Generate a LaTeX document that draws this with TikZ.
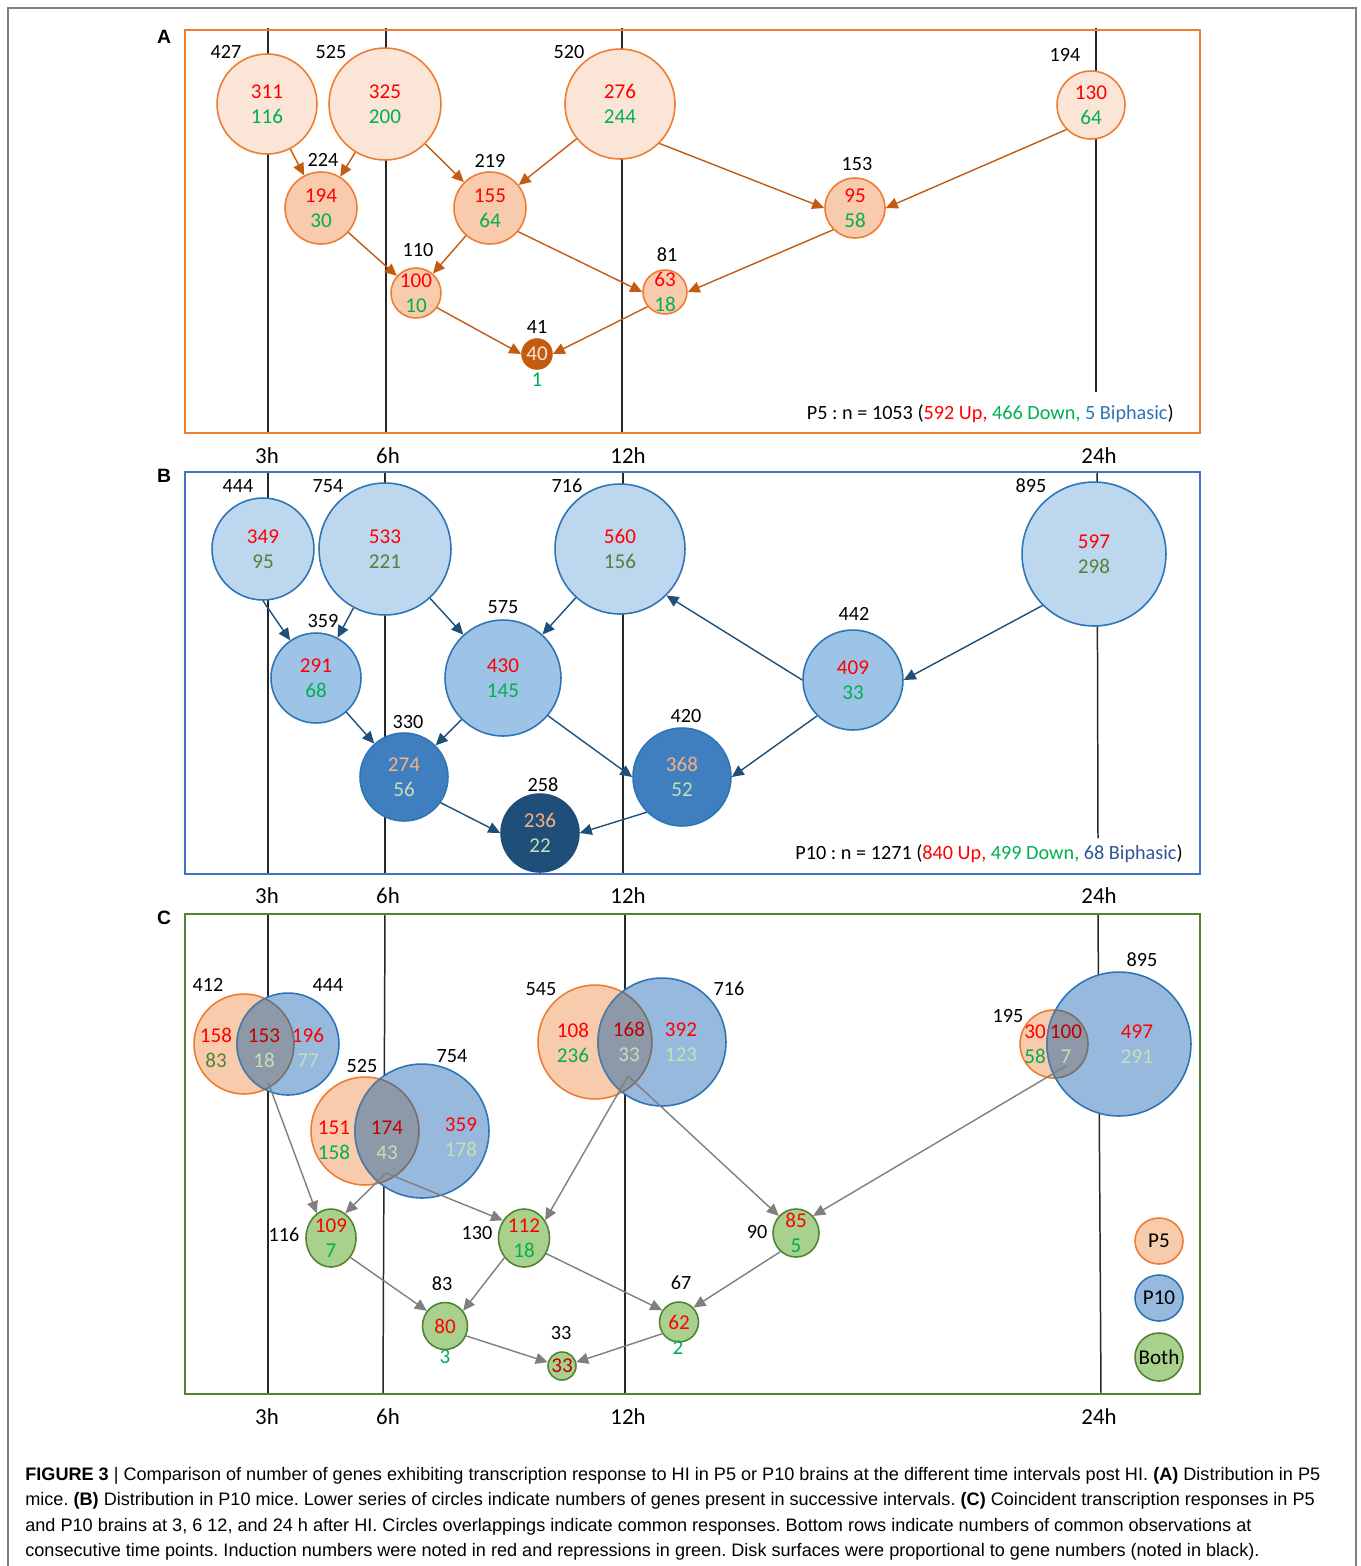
\documentclass[tikz,border=0pt]{standalone}
\usepackage{fontspec}
\setmainfont{Carlito}
\newfontfamily\capfont{Liberation Sans}
\usetikzlibrary{arrows.meta,positioning,shapes.geometric}
\definecolor{upred}{HTML}{FF0000}
\definecolor{dngreen}{HTML}{00B050}
\definecolor{dkgreen}{HTML}{548235}
\definecolor{darkred}{HTML}{C00000}
\definecolor{paleorange}{HTML}{F4B183}
\definecolor{palegreen}{HTML}{C5E0B4}
\definecolor{orline}{HTML}{ED7D31}
\definecolor{orlight}{HTML}{FBE5D6}
\definecolor{ormid}{HTML}{F8CBAD}
\definecolor{ordark}{HTML}{C55A11}
\definecolor{blline}{HTML}{2E75B6}
\definecolor{bllight}{HTML}{BDD7EE}
\definecolor{blmid}{HTML}{9DC3E6}
\definecolor{bldark}{HTML}{3F7FBF}
\definecolor{blnavy}{HTML}{1F4E79}
\definecolor{venblue}{HTML}{97B9DD}
\definecolor{lensgray}{HTML}{8D99A9}
\definecolor{lensblue}{HTML}{4F7AA8}
\definecolor{lensbrown}{HTML}{7A6E6A}
\definecolor{grfill}{HTML}{A9D18E}
\definecolor{grline}{HTML}{548235}
\definecolor{arrgray}{HTML}{7F7F7F}
\definecolor{frameblue}{HTML}{4472C4}
\definecolor{bipA}{HTML}{2E75B6}
\definecolor{bipB}{HTML}{2F5597}

% two numbers stacked in a disk
\newcommand{\twonum}[4]{\textcolor{#1}{#2}\\\textcolor{#3}{#4}}
% grey lens where a P5 disk and a P10 disk overlap
\newcommand{\overlap}[4]{%
  \begin{scope}
    \clip (#1.center) circle[radius=#2];
    \fill[lensgray] (#3.center) circle[radius=#4];
    \draw[lensblue, line width=0.9pt] (#3.center) circle[radius=#4];
  \end{scope}
  \begin{scope}
    \clip (#3.center) circle[radius=#4];
    \draw[lensbrown, line width=0.9pt] (#1.center) circle[radius=#2];
  \end{scope}}

\frenchspacing
\begin{document}
\begin{tikzpicture}[
    x=0.02cm, y=-0.02cm,
    font=\fontsize{12}{14.2}\selectfont,
    >={Triangle[length=2.4mm, width=2.2mm]},
    rad/.style={minimum size=0.04cm*#1},
    wh/.style 2 args={minimum width=0.02cm*#1, minimum height=0.02cm*#2},
    num/.style={label={[align=center, inner sep=0pt]center:#1}},
    bub/.style={circle, inner sep=0pt, line width=0.9pt},
    pa/.style={bub, draw=orline, fill=orlight},
    pb/.style={bub, draw=orline, fill=ormid},
    pc/.style={bub, draw=ordark, fill=ordark},
    qa/.style={bub, draw=blline, fill=bllight},
    qb/.style={bub, draw=blline, fill=blmid},
    qc/.style={bub, draw=blline, fill=bldark},
    qd/.style={bub, draw=blnavy, fill=blnavy},
    vp5/.style={bub, draw=orline, fill=ormid},
    vp10/.style={bub, draw=blline, fill=venblue},
    both/.style={ellipse, inner sep=0pt, line width=0.9pt, draw=grline, fill=grfill},
    cnt/.style={inner sep=0pt, font=\fontsize{11.5}{13}\selectfont},
    txt/.style={inner sep=0pt, align=center},
    tim/.style={inner sep=0pt, font=\fontsize{13}{15}\selectfont},
    letter/.style={inner sep=0pt, font=\capfont\bfseries\fontsize{11}{13}\selectfont},
    legtxt/.style={inner sep=0pt, font=\fontsize{11.5}{13}\selectfont},
    tick/.style={black!85, line width=0.85pt},
    arA/.style={->, ordark, line width=0.8pt},
    arB/.style={->, blnavy, line width=0.8pt},
    arC/.style={->, arrgray, line width=0.8pt},
    capline/.style={inner sep=0pt, anchor=base west, font=\capfont\fontsize{10.3}{12}\selectfont},
]
\useasboundingbox (0,0) rectangle (1360,1566);
\draw[arrgray, line width=1.2pt] (8,1566) -- (8,8) -- (1356,8) -- (1356,1566);

% ================= A : P5 =================
\draw[tick] (268,28) -- (268,433);
\draw[tick] (386,28) -- (386,433);
\draw[tick] (622,28) -- (622,433);
\draw[tick] (1096,28) -- (1096,392);
\draw[orline, line width=1.1pt] (185,30) rectangle (1200,433);
\node[letter] (la) at (164,37) {A};

\node[pa, rad=50, num={\twonum{upred}{311}{dngreen}{116}}] (c311) at (267,104) {};
\node[pa, rad=56, num={\twonum{upred}{325}{dngreen}{200}}] (c325) at (385,104) {};
\node[pa, rad=55, num={\twonum{upred}{276}{dngreen}{244}}] (c276) at (620,104) {};
\node[pa, rad=34, num={\twonum{upred}{130}{dngreen}{64}}] (c130) at (1091,105) {};
\node[pb, rad=36, num={\twonum{upred}{194}{dngreen}{30}}] (c194) at (321,208) {};
\node[pb, rad=36, num={\twonum{upred}{155}{dngreen}{64}}] (c155) at (490,208) {};
\node[pb, rad=30, num={\twonum{upred}{95}{dngreen}{58}}] (c95) at (855,208) {};
\node[pb, rad=25, num={\twonum{upred}{100}{dngreen}{10}}] (c100) at (416,293) {};
\node[pb, rad=22, num={\twonum{upred}{63}{dngreen}{18}}] (c63) at (665,292) {};
\node[pc, rad=15, num={\textcolor{orlight}{40}}] (c40) at (537,354) {};
\node[txt, dngreen] (c40d) at (537,380) {1};

\node[cnt] (n427) at (226,52) {427};
\node[cnt] (n525) at (331,52) {525};
\node[cnt] (n520) at (569,52) {520};
\node[cnt] (n194) at (1065,55) {194};
\node[cnt] (n224) at (323,160) {224};
\node[cnt] (n219) at (490,161) {219};
\node[cnt] (n153) at (857,164) {153};
\node[cnt] (n110) at (418,250) {110};
\node[cnt] (n81) at (667,255) {81};
\node[cnt] (n41) at (537,327) {41};

\draw[arA] (c311) -- (c194);
\draw[arA] (c325) -- (c194);
\draw[arA] (c325) -- (c155);
\draw[arA] (c276) -- (c155);
\draw[arA] (c276.-45) -- (c95.west);
\draw[arA] (c130.225) -- (c95.east);
\draw[arA] (c194) -- (c100);
\draw[arA] (c155) -- (c100);
\draw[arA] (c155.-40) -- (c63.west);
\draw[arA] (c95.225) -- (c63.east);
\draw[arA] (c100.-35) -- (c40.west);
\draw[arA] (c63.220) -- (c40.east);

\node[legtxt, anchor=base east] (legA) at (1174,419)
  {P5 : n = 1053 (\textcolor{upred}{592 Up,} \textcolor{dngreen}{466 Down,} \textcolor{bipA}{5 Biphasic})};

\node[tim] (ta3) at (267,456) {3h};
\node[tim] (ta6) at (388,456) {6h};
\node[tim] (ta12) at (628,456) {12h};
\node[tim] (ta24) at (1099,456) {24h};

% ================= B : P10 =================
\draw[tick] (268,472) -- (268,874);
\draw[tick] (385,472) -- (385,874);
\draw[tick] (623,472) -- (623,874);
\draw[tick] (1097,472) -- (1098,838);
\draw[frameblue, line width=1.1pt] (185,472) rectangle (1200,874);
\node[letter] (lb) at (164,476) {B};

\node[qa, rad=51, num={\twonum{upred}{349}{dkgreen}{95}}] (b349) at (263,549) {};
\node[qa, rad=66, num={\twonum{upred}{533}{dkgreen}{221}}] (b533) at (385,549) {};
\node[qa, rad=65, num={\twonum{upred}{560}{dkgreen}{156}}] (b560) at (620,549) {};
\node[qa, rad=72, num={\twonum{upred}{597}{dkgreen}{298}}] (b597) at (1094,554) {};
\node[qb, rad=45, num={\twonum{upred}{291}{dngreen}{68}}] (b291) at (316,678) {};
\node[qb, rad=58, num={\twonum{upred}{430}{dngreen}{145}}] (b430) at (503,678) {};
\node[qb, rad=50, num={\twonum{upred}{409}{dngreen}{33}}] (b409) at (853,680) {};
\node[qc, rad=44, num={\twonum{paleorange}{274}{palegreen}{56}}] (b274) at (404,777) {};
\node[qc, rad=49, num={\twonum{paleorange}{368}{palegreen}{52}}] (b368) at (682,777) {};
\node[qd, rad=39, num={\twonum{paleorange}{236}{palegreen}{22}}] (b236) at (540,833) {};

\node[cnt] (n444) at (238,486) {444};
\node[cnt] (n754) at (328,486) {754};
\node[cnt] (n716) at (567,486) {716};
\node[cnt] (n895) at (1031,486) {895};
\node[cnt] (n359) at (323,621) {359};
\node[cnt] (n575) at (503,607) {575};
\node[cnt] (n442) at (854,614) {442};
\node[cnt] (n330) at (408,722) {330};
\node[cnt] (n420) at (686,716) {420};
\node[cnt] (n258) at (543,785) {258};

\draw[arB] (b349.south) -- (b291);
\draw[arB] (b533) -- (b291);
\draw[arB] (b533) -- (b430);
\draw[arB] (b560) -- (b430);
\draw[arB] (b409.west) -- (b560.south east);
\draw[arB] (b597.225) -- (b409.east);
\draw[arB] (b291) -- (b274);
\draw[arB] (b430) -- (b274);
\draw[arB] (b430.-40) -- (b368.west);
\draw[arB] (b409.225) -- (b368.east);
\draw[arB] (b274.-35) -- (b236.west);
\draw[arB] (b368.225) -- (b236.east);

\node[legtxt, anchor=base east] (legB) at (1183,859)
  {P10 : n = 1271 (\textcolor{upred}{840 Up,} \textcolor{dngreen}{499 Down,} \textcolor{bipB}{68 Biphasic})};

\node[tim] (tb3) at (267,896) {3h};
\node[tim] (tb6) at (388,896) {6h};
\node[tim] (tb12) at (628,896) {12h};
\node[tim] (tb24) at (1099,896) {24h};

% ================= C : P5 and P10 =================
\draw[tick] (268,914) -- (268,1394);
\draw[tick] (385,914) -- (383,1394);
\draw[tick] (625,914) -- (625,1394);
\draw[tick] (1098,914) -- (1101,1394);
\draw[dkgreen, line width=1.1pt] (185,914) rectangle (1200,1394);
\node[letter] (lc) at (164,918) {C};

% overlapping disks
\node[vp5, rad=50] (v1a) at (244,1044) {};
\node[vp10, rad=51] (v1b) at (288,1044) {};
\overlap{v1a}{50}{v1b}{51}
\node[vp5, rad=54] (v2a) at (365,1131) {};
\node[vp10, rad=67] (v2b) at (422,1131) {};
\overlap{v2a}{54}{v2b}{67}
\node[vp5, rad=57] (v3a) at (595,1042) {};
\node[vp10, rad=64] (v3b) at (662,1042) {};
\overlap{v3a}{57}{v3b}{64}
\node[vp5, rad=34] (v4a) at (1054,1044) {};
\node[vp10, rad=72] (v4b) at (1119,1044) {};
\overlap{v4a}{34}{v4b}{72}

\node[txt] (t158) at (216,1048) {\twonum{upred}{158}{dkgreen}{83}};
\node[txt] (t153) at (264,1048) {\twonum{darkred}{153}{palegreen}{18}};
\node[txt] (t196) at (308,1048) {\twonum{upred}{196}{palegreen}{77}};
\node[txt] (t151) at (334,1140) {\twonum{upred}{151}{dngreen}{158}};
\node[txt] (t174) at (387,1140) {\twonum{darkred}{174}{palegreen}{43}};
\node[txt] (t359) at (461,1137) {\twonum{upred}{359}{palegreen}{178}};
\node[txt] (t108) at (573,1043) {\twonum{upred}{108}{dngreen}{236}};
\node[txt] (t168) at (629,1042) {\twonum{darkred}{168}{palegreen}{33}};
\node[txt] (t392) at (681,1042) {\twonum{upred}{392}{palegreen}{123}};
\node[txt] (t30) at (1035,1044) {\twonum{upred}{30}{dngreen}{58}};
\node[txt] (t100) at (1066,1044) {\twonum{darkred}{100}{palegreen}{7}};
\node[txt] (t497) at (1137,1044) {\twonum{upred}{497}{palegreen}{291}};

\node[cnt] (n412) at (208,985) {412};
\node[cnt] (n444c) at (328,985) {444};
\node[cnt] (n525c) at (362,1066) {525};
\node[cnt] (n754c) at (452,1056) {754};
\node[cnt] (n545) at (541,989) {545};
\node[cnt] (n716c) at (729,989) {716};
\node[cnt] (n195) at (1008,1016) {195};
\node[cnt] (n895c) at (1142,960) {895};

% common responses
\node[both, wh={50}{58}, num={\twonum{upred}{109}{dngreen}{7}}] (g109) at (331,1238) {};
\node[both, wh={51}{58}, num={\twonum{upred}{112}{dngreen}{18}}] (g112) at (524,1238) {};
\node[both, wh={46}{48}, num={\twonum{upred}{85}{dngreen}{5}}] (g85) at (796,1233) {};
\node[both, wh={45}{47}, num={\textcolor{upred}{80}}] (g80) at (445,1326) {};
\node[both, wh={39}{40}, num={\textcolor{upred}{62}}] (g62) at (679,1322) {};
\node[both, wh={28}{28}, num={\textcolor{darkred}{33}}] (g33) at (562,1366) {};
\node[txt, dngreen] (g80d) at (445,1357) {3};
\node[txt, dngreen] (g62d) at (678,1348) {2};

\node[cnt] (n116) at (284,1235) {116};
\node[cnt] (n130) at (477,1233) {130};
\node[cnt] (n90) at (757,1232) {90};
\node[cnt] (n83) at (442,1284) {83};
\node[cnt] (n67) at (681,1283) {67};
\node[cnt] (n33) at (561,1333) {33};

\coordinate (v1o) at (268,1082);
\coordinate (v2o) at (386,1173);
\coordinate (v3o) at (628,1076);
\coordinate (v4o) at (1066,1066);

\draw[arC] (v1o) -- (g109.120);
\draw[arC] (v2o) -- (g109.60);
\draw[arC] (v2o) -- (g112.140);
\draw[arC] (v3o) -- (g112.40);
\draw[arC] (v3o) -- (g85.135);
\draw[arC] (v4o) -- (g85.45);
\draw[arC] (g109.-45) -- (g80.140);
\draw[arC] (g112.-135) -- (g80.40);
\draw[arC] (g112.-35) -- (g62.145);
\draw[arC] (g85.-130) -- (g62.45);
\draw[arC] (g80.-25) -- (g33.165);
\draw[arC] (g62.-145) -- (g33.15);

% legend
\node[vp5, ellipse, wh={48}{46}, num={P5}] (kp5) at (1159,1241) {};
\node[vp10, ellipse, wh={48}{46}, num={P10}] (kp10) at (1159,1298) {};
\node[both, wh={48}{48}, num={Both}] (kboth) at (1159,1357) {};

\node[tim] (tc3) at (267,1417) {3h};
\node[tim] (tc6) at (388,1417) {6h};
\node[tim] (tc12) at (628,1417) {12h};
\node[tim] (tc24) at (1099,1417) {24h};

% caption
\node[capline] (cap1) at (25,1480) {\textbf{FIGURE 3} | Comparison of number of genes exhibiting transcription response to HI in P5 or P10 brains at the different time intervals post HI. \textbf{(A)} Distribution in P5};
\node[capline] (cap2) at (25,1505) {mice. \textbf{(B)} Distribution in P10 mice. Lower series of circles indicate numbers of genes present in successive intervals. \textbf{(C)} Coincident transcription responses in P5};
\node[capline] (cap3) at (25,1531) {and P10 brains at 3, 6 12, and 24 h after HI. Circles overlappings indicate common responses. Bottom rows indicate numbers of common observations at};
\node[capline] (cap4) at (25,1556) {consecutive time points. Induction numbers were noted in red and repressions in green. Disk surfaces were proportional to gene numbers (noted in black).};
\end{tikzpicture}
\end{document}
